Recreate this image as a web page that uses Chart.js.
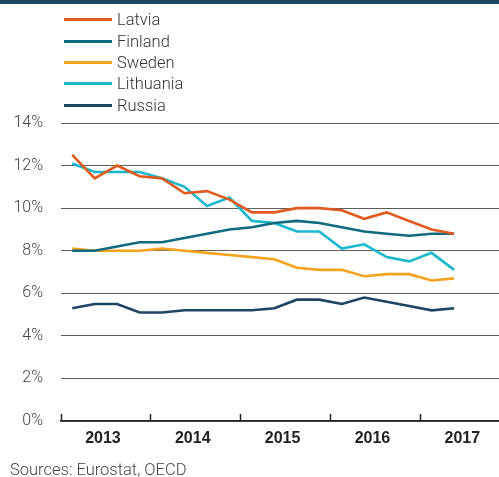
<!DOCTYPE html>
<html>
<head>
<meta charset="utf-8">
<script src="https://cdn.jsdelivr.net/npm/chart.js@4.4.1/dist/chart.umd.min.js"></script>
<style>
    html, body { margin: 0; padding: 0; background: #fff; }
    #wrap { position: relative; width: 499px; height: 477px; overflow: hidden; }
    #unemploymentChart { display: block; }
    #topbar { position: absolute; left: 0; top: 0; width: 499px; height: 4px; background: #1d4562; }
    #legend { position: absolute; left: 64px; top: 9px; font-family: Roboto, "Liberation Sans", sans-serif; font-weight: 300; font-size: 16.5px; color: #333; }
    .item { display: flex; align-items: center; height: 21.4px; }
    .swatch { width: 48px; height: 3px; margin-right: 5px; }
    #source { position: absolute; left: 10px; top: 461px; font-family: Roboto, "Liberation Sans", sans-serif; font-weight: 300; font-size: 16.5px; line-height: 17px; color: #444; }
</style>
</head>
<body>
<div id="wrap">
    <canvas id="unemploymentChart" width="499" height="477"></canvas>
    <div id="topbar"></div>
    <div id="legend"></div>
    <div id="source">Sources: Eurostat, OECD</div>
</div>
<script>
// quarterly unemployment rate, %
const quarters = ['2013Q1', '2013Q2', '2013Q3', '2013Q4', '2014Q1', '2014Q2', '2014Q3', '2014Q4',
    '2015Q1', '2015Q2', '2015Q3', '2015Q4', '2016Q1', '2016Q2', '2016Q3', '2016Q4', '2017Q1', '2017Q2'];
const years = ['2013', '2014', '2015', '2016', '2017'];

const latvia = [12.5, 11.4, 12.0, 11.5, 11.4, 10.7, 10.8, 10.4, 9.8, 9.8, 10.0, 10.0, 9.9, 9.5, 9.8, 9.4, 9.0, 8.8];
const finland = [8.0, 8.0, 8.2, 8.4, 8.4, 8.6, 8.8, 9.0, 9.1, 9.3, 9.4, 9.3, 9.1, 8.9, 8.8, 8.7, 8.8, 8.8];
const sweden = [8.1, 8.0, 8.0, 8.0, 8.1, 8.0, 7.9, 7.8, 7.7, 7.6, 7.2, 7.1, 7.1, 6.8, 6.9, 6.9, 6.6, 6.7];
const lithuania = [12.1, 11.7, 11.7, 11.7, 11.4, 11.0, 10.1, 10.5, 9.4, 9.3, 8.9, 8.9, 8.1, 8.3, 7.7, 7.5, 7.9, 7.1];
const russia = [5.3, 5.5, 5.5, 5.1, 5.1, 5.2, 5.2, 5.2, 5.2, 5.3, 5.7, 5.7, 5.5, 5.8, 5.6, 5.4, 5.2, 5.3];

const yTicks = [0, 2, 4, 6, 8, 10, 12, 14];

// each quarter is plotted in the middle of its slot
function toPoints(values) {
    return values.map(function (v, i) {
        return { x: i + 0.5, y: v };
    });
}

function series(label, values, color) {
    return {
        label: label,
        data: toPoints(values),
        borderColor: color,
        backgroundColor: color,
        borderWidth: 2.6,
        pointRadius: 0,
        tension: 0
    };
}

const data = {
    datasets: [
        series('Latvia', latvia, '#e05a1f'),
        series('Finland', finland, '#0f6b80'),
        series('Sweden', sweden, '#f5a21f'),
        series('Lithuania', lithuania, '#1ab8cf'),
        series('Russia', russia, '#1c4664')
    ]
};

const config = {
    type: 'line',
    data: data,
    options: {
        responsive: false,
        animation: false,
        layout: { padding: { top: 123, right: 0, bottom: 0, left: 0 } },
        plugins: {
            legend: { display: false },
            tooltip: { enabled: false }
        },
        scales: {
            x: {
                type: 'linear',
                min: 0,
                max: 19.5,
                afterBuildTicks: function (scale) {
                    scale.ticks = [0, 2, 4, 6, 8, 10, 12, 14, 16, 18].map(function (v) {
                        return { value: v };
                    });
                },
                afterFit: function (scale) {
                    scale.height = 56;
                },
                border: { display: true, color: '#222', width: 1.5 },
                grid: {
                    drawOnChartArea: false,
                    drawTicks: true,
                    tickLength: -7,
                    tickWidth: 1.5,
                    tickColor: function (ctx) {
                        return ctx.tick && ctx.tick.value % 4 === 0 ? '#222' : 'rgba(0,0,0,0)';
                    }
                },
                ticks: {
                    autoSkip: false,
                    maxRotation: 0,
                    padding: 15,
                    labelOffset: -3,
                    color: '#222',
                    font: { family: '"Liberation Sans", Arial, sans-serif', size: 16, weight: 'bold' },
                    callback: function (value) {
                        return value % 4 === 2 ? years[(value - 2) / 4] : '';
                    }
                }
            },
            y: {
                min: 0,
                max: 14,
                afterBuildTicks: function (scale) {
                    scale.ticks = yTicks.map(function (v) {
                        return { value: v };
                    });
                },
                afterFit: function (scale) {
                    scale.width = 61;
                },
                border: { display: false },
                grid: {
                    drawTicks: false,
                    color: '#5e5e5e',
                    lineWidth: 1
                },
                ticks: {
                    padding: 18,
                    color: '#444',
                    font: { family: 'Roboto, "Liberation Sans", sans-serif', size: 16, weight: 300 },
                    callback: function (value) {
                        return value + '%';
                    }
                }
            }
        }
    }
};

const myChart = new Chart(document.getElementById('unemploymentChart'), config);

// legend as plain html, built from the datasets
const legendBox = document.getElementById('legend');
myChart.data.datasets.forEach(function (ds) {
    const item = document.createElement('div');
    item.className = 'item';
    const swatch = document.createElement('span');
    swatch.className = 'swatch';
    swatch.style.background = ds.borderColor;
    const text = document.createElement('span');
    text.textContent = ds.label;
    item.appendChild(swatch);
    item.appendChild(text);
    legendBox.appendChild(item);
});
</script>
</body>
</html>
